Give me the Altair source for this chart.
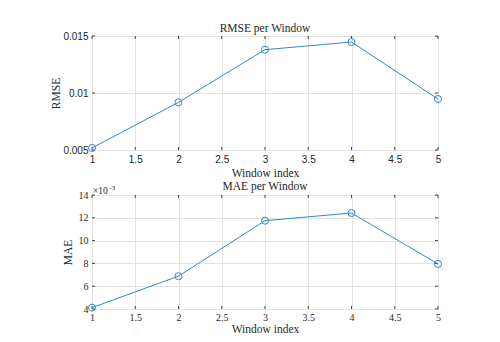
import altair as alt
import pandas as pd

# ---- data ----
window = [1, 2, 3, 4, 5]
rmse = [0.00518, 0.00918, 0.0138, 0.01447, 0.00947]
mae = [0.00412, 0.00688, 0.01175, 0.01242, 0.00795]

x_ticks = [1, 1.5, 2, 2.5, 3, 3.5, 4, 4.5, 5]
rmse_ticks = [0.005, 0.01, 0.015]
mae_ticks = [0.004, 0.006, 0.008, 0.010, 0.012, 0.014]

LINE = "#3089c9"
W, H = 346, 114
SERIF = "Liberation Serif"
SANS = "Liberation Sans"
TXT = "#262626"

df = pd.DataFrame({"w": window, "rmse": rmse, "mae": mae})


def panel(field, ytitle, yticks, domain, label_font, label_expr, title_x, xlabel_font, xtitle_pad):
    xenc = alt.X("w:Q", scale=alt.Scale(domain=[1, 5], nice=False, zero=False),
                 axis=alt.Axis(values=x_ticks, tickCount=20,
                               labelExpr="format(datum.value, '~g')",
                               title="Window index",
                               labelFont=xlabel_font, labelFontSize=10,
                               labelColor=TXT, labelPadding=4 if xlabel_font == SANS else 3,
                               labelFlush=False, labelOverlap=False,
                               titleFont=SERIF, titleFontSize=11.5, titleFontWeight="normal",
                               titleColor=TXT, titlePadding=xtitle_pad,
                               grid=True, gridColor="#e3e3e3", tickSize=0, domain=False))
    yaxis = dict(values=yticks, tickCount=20, title=ytitle, labelFont=label_font, labelFontSize=10,
                 labelColor=TXT, labelPadding=4, labelFlush=False, labelOverlap=False,
                 titleFont=SERIF, titleFontSize=11.5,
                 titleFontWeight="normal", titleColor=TXT, grid=True, gridColor="#e3e3e3",
                 tickSize=0, domain=False, titleX=title_x, titleY=H / 2,
                 titleAngle=-90, titleAlign="center", titleBaseline="middle",
                 labelExpr=label_expr)
    yenc = alt.Y(f"{field}:Q", scale=alt.Scale(domain=domain, nice=False, zero=False),
                 axis=alt.Axis(**yaxis))

    base = alt.Chart(df).encode(x=xenc, y=yenc)
    line = base.mark_line(color=LINE, strokeWidth=1)
    pts = base.mark_point(shape="circle", filled=False, color=LINE, size=50, strokeWidth=1, opacity=1)

    xt = pd.DataFrame({"w": x_ticks})
    yt = pd.DataFrame({field: yticks})
    tick_col = "#404040"
    xb = alt.Chart(xt).mark_rule(color=tick_col, strokeWidth=1).encode(
        x="w:Q", y=alt.value(H), y2=alt.value(H - 3))
    xtop = alt.Chart(xt).mark_rule(color=tick_col, strokeWidth=1).encode(
        x="w:Q", y=alt.value(0), y2=alt.value(3))
    yl = alt.Chart(yt).mark_rule(color=tick_col, strokeWidth=1).encode(
        y=f"{field}:Q", x=alt.value(0), x2=alt.value(3))
    yr = alt.Chart(yt).mark_rule(color=tick_col, strokeWidth=1).encode(
        y=f"{field}:Q", x=alt.value(W), x2=alt.value(W - 3))

    return [xb, xtop, yl, yr, line, pts]


top_layers = panel("rmse", "RMSE", rmse_ticks, [0.005, 0.015], SANS,
                   "format(datum.value, '~g')", -36, SANS, 3)
top = alt.layer(*top_layers).properties(
    width=W, height=H,
    title=alt.TitleParams("RMSE per Window", font=SERIF, fontSize=11.5, fontWeight="normal",
                          color=TXT, offset=-3))

bot_layers = panel("mae", "MAE", mae_ticks, [0.004, 0.014], SERIF,
                   "format(datum.value*1000, '.0f')", -24, SERIF, 1)
one = pd.DataFrame({"k": [0]})
exp1 = alt.Chart(one).mark_text(text="×10", font=SERIF, fontSize=9.5, color=TXT,
                                align="left", baseline="alphabetic").encode(
    x=alt.value(1), y=alt.value(-1))
exp2 = alt.Chart(one).mark_text(text="-3", font=SERIF, fontSize=7, color=TXT,
                                align="left", baseline="alphabetic").encode(
    x=alt.value(17.5), y=alt.value(-5))
bottom = alt.layer(*bot_layers, exp1, exp2).properties(
    width=W, height=H,
    title=alt.TitleParams("MAE per Window", font=SERIF, fontSize=11.5, fontWeight="normal",
                          color=TXT, offset=-8))

chart = alt.vconcat(top, bottom, spacing=45, bounds="flush").properties(
    padding={"left": 41, "top": 14, "right": 40, "bottom": 10},
).configure_view(stroke="#4a4a4a", strokeWidth=1).configure(background="white")

chart.save("out.html", embed_options={"renderer": "svg", "actions": False})
